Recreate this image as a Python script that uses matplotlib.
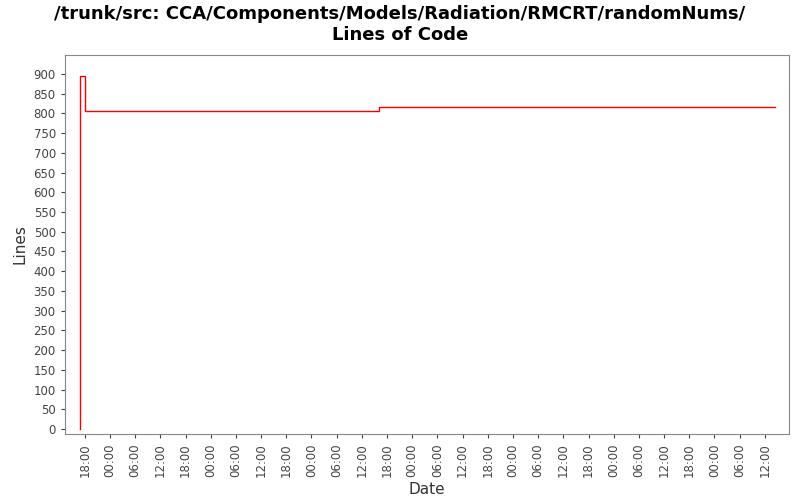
import matplotlib
matplotlib.use("Agg")
import matplotlib.pyplot as plt
import matplotlib.dates as mdates
from datetime import datetime

times = [datetime(2010,1,1,16,48), datetime(2010,1,1,16,48), datetime(2010,1,1,18,0),
         datetime(2010,1,4,16,0), datetime(2010,1,8,14,24)]
lines = [0, 895, 805, 815, 815]

fig = plt.figure(figsize=(8,5), dpi=100)
ax = fig.add_axes([0.081, 0.132, 0.905, 0.758])
ax.plot(times, lines, color='red', lw=1, drawstyle='steps-post')
ax.set_xlim(datetime(2010,1,1,13,14), datetime(2010,1,8,17,42))
ax.set_ylim(-12.7, 948)
ax.set_yticks(range(0, 901, 50))
ax.xaxis.set_major_locator(mdates.HourLocator(byhour=[0,6,12,18]))
ax.xaxis.set_major_formatter(mdates.DateFormatter('%H:%M'))
for lab in ax.get_xticklabels():
    lab.set_rotation(90)
ax.tick_params(labelsize=8.5, colors='#444444', length=3)
for s in ax.spines.values():
    s.set_color('#888888')
ax.set_xlabel('Date', fontsize=11, color='#333333')
ax.set_ylabel('Lines', fontsize=11, color='#333333')
fig.suptitle('/trunk/src: CCA/Components/Models/Radiation/RMCRT/randomNums/\nLines of Code',
             fontsize=13, fontweight='bold', y=0.99, linespacing=1.2)
fig.savefig('out.png', dpi=100)
